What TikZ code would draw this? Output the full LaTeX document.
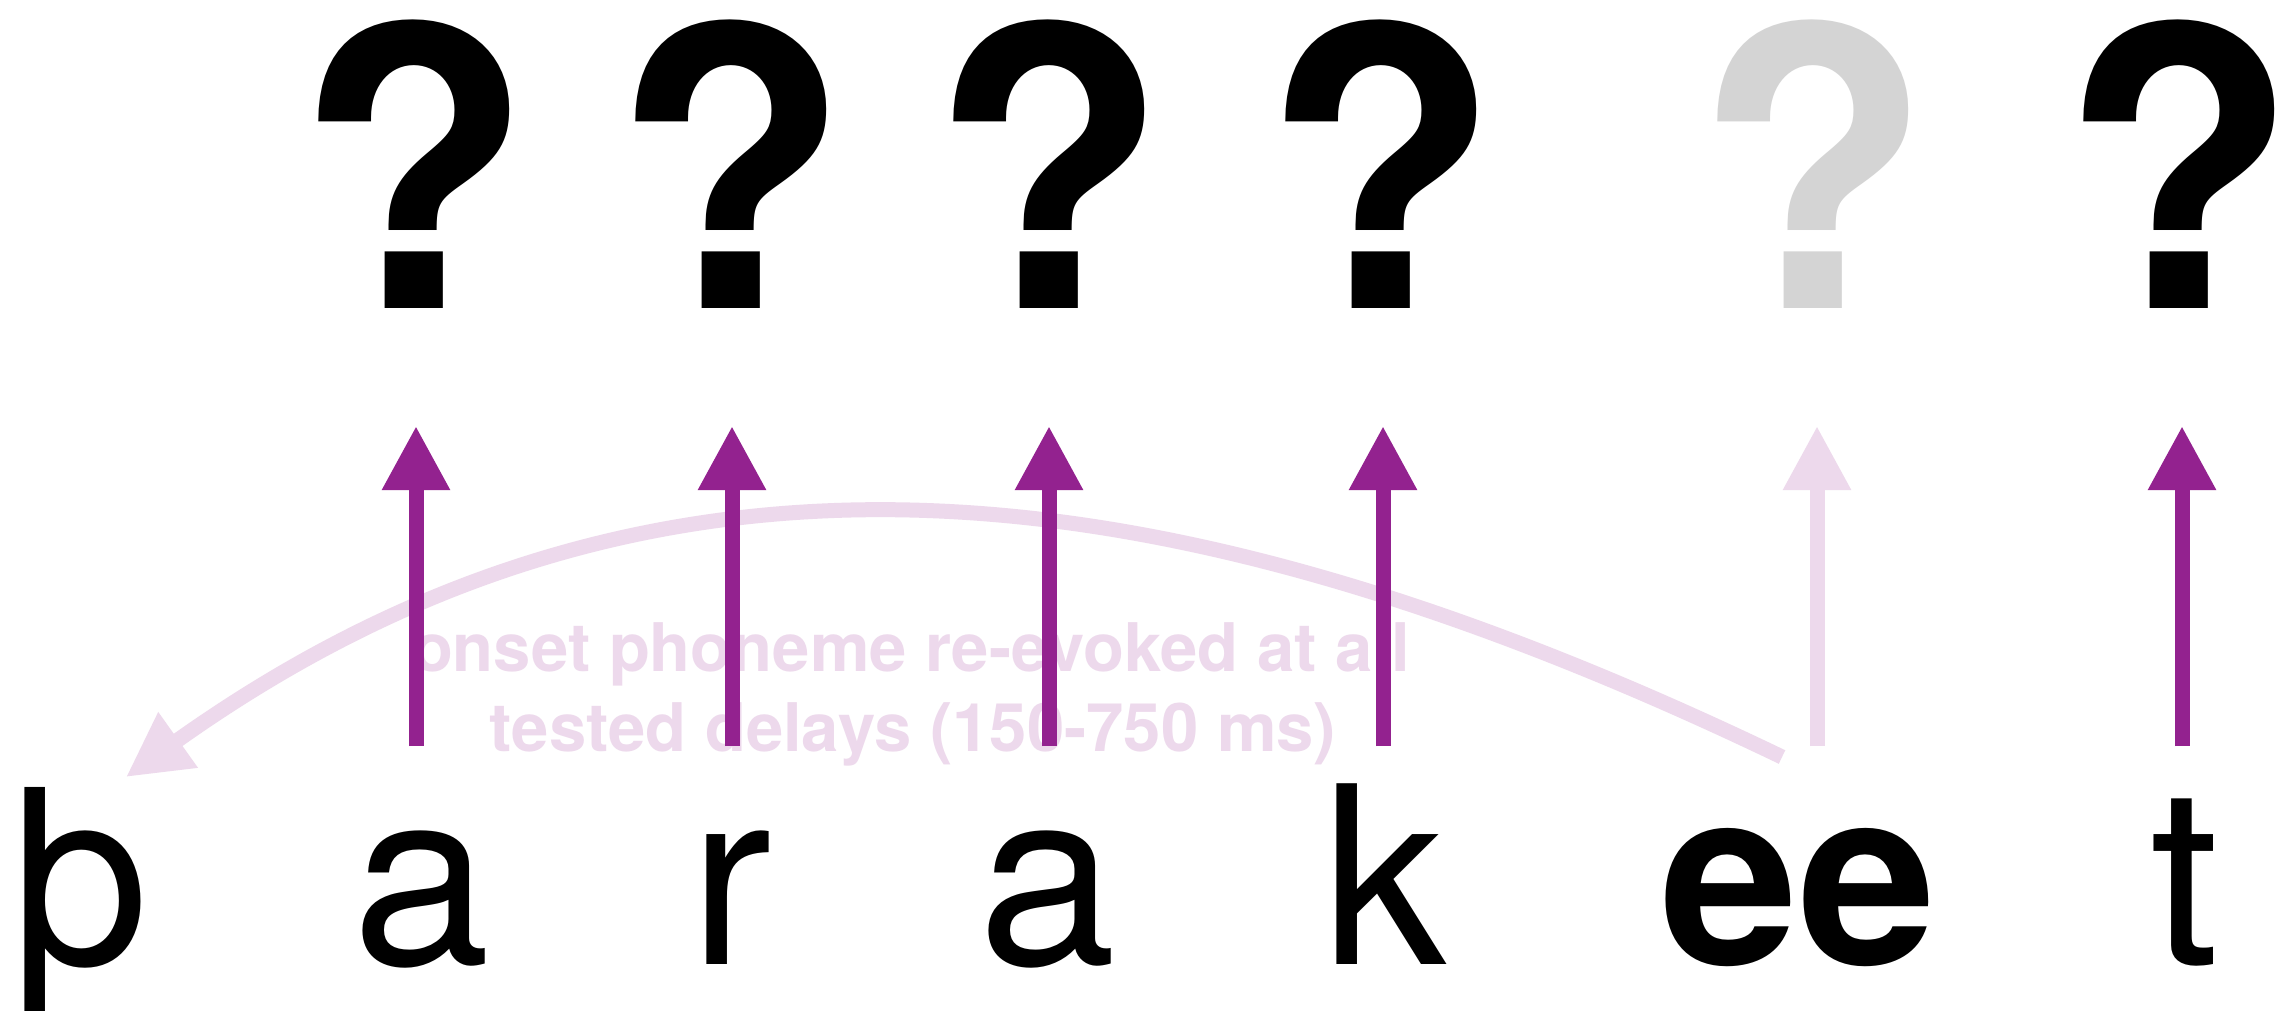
\documentclass[tikz,border=0pt]{standalone}
\usepackage{fontspec}
\setmainfont{TeX Gyre Heros}
\usetikzlibrary{arrows.meta}

\definecolor{evokepurple}{RGB}{147,34,143}
\definecolor{evokepink}{RGB}{237,217,236}
\definecolor{faintgrey}{RGB}{212,212,212}

\begin{document}
\begin{tikzpicture}[x=1pt,y=-1pt,
  qmark/.style={font=\fontsize{388}{400}\selectfont\bfseries, inner sep=0pt, anchor=base},
  letter/.style={font=\fontsize{248}{250}\selectfont, inner sep=0pt, anchor=base},
  boldletter/.style={font=\fontsize{248}{250}\selectfont\bfseries, inner sep=0pt, anchor=base},
  note/.style={font=\fontsize{67}{80}\selectfont\bfseries, text=evokepink, inner sep=0pt, anchor=base},
  uparrow/.style={line width=15pt, line cap=butt, -{Triangle[length=64pt,width=64pt]}},
  backarc/.style={line width=15pt, line cap=butt, evokepink, -{Triangle[length=64pt,width=64pt]}}
]
% canvas
\useasboundingbox (0,0) rectangle (2290,1011);
\clip (0,0) rectangle (2290,1011);
\fill[white] (0,0) rectangle (2290,1011);

% arrow anchor points: shaft foot and tip for each position
\foreach \i/\x in {1/416,2/732,3/1049,4/1383,5/1817,6/2182}{
  \coordinate (foot\i) at (\x,746);
  \coordinate (tip\i) at (\x,426);
}

% long arc back to the onset
\coordinate (arcstart) at (1782,757);
\coordinate (arcend) at (126,777);
\draw[backarc] (arcstart) .. controls (1153,455) and (647,406) .. (arcend);

% caption under the arrows
\node[note] (cap1) at (911,671) {onset phoneme re-evoked at all};
\node[note] (cap2) at (913,751) {tested delays (150-750 ms)};

% upward arrows
\draw[uparrow, evokepink] (foot5) -- (tip5);
\foreach \i in {1,2,3,4,6}{
  \draw[uparrow, evokepurple] (foot\i) -- (tip\i);
}

% question marks
\node[qmark] (q1) at (414,308) {?};
\node[qmark] (q2) at (731,308) {?};
\node[qmark] (q3) at (1049,308) {?};
\node[qmark] (q4) at (1381,308) {?};
\node[qmark, text=faintgrey] (q5) at (1813,308) {?};
\node[qmark] (q6) at (2179,308) {?};

% the word, letter by letter
\node[letter] (l1) at (80,964) {þ};
\node[letter] (l2) at (421,964) {a};
\node[letter] (l3) at (731,964) {r};
\node[letter] (l4) at (1047,964) {a};
\node[letter] (l5) at (1384,964) {k};
\node[boldletter] (l6) at (1798,964) {ee};
\node[letter] (l7) at (2185,964) {t};
\end{tikzpicture}
\end{document}
